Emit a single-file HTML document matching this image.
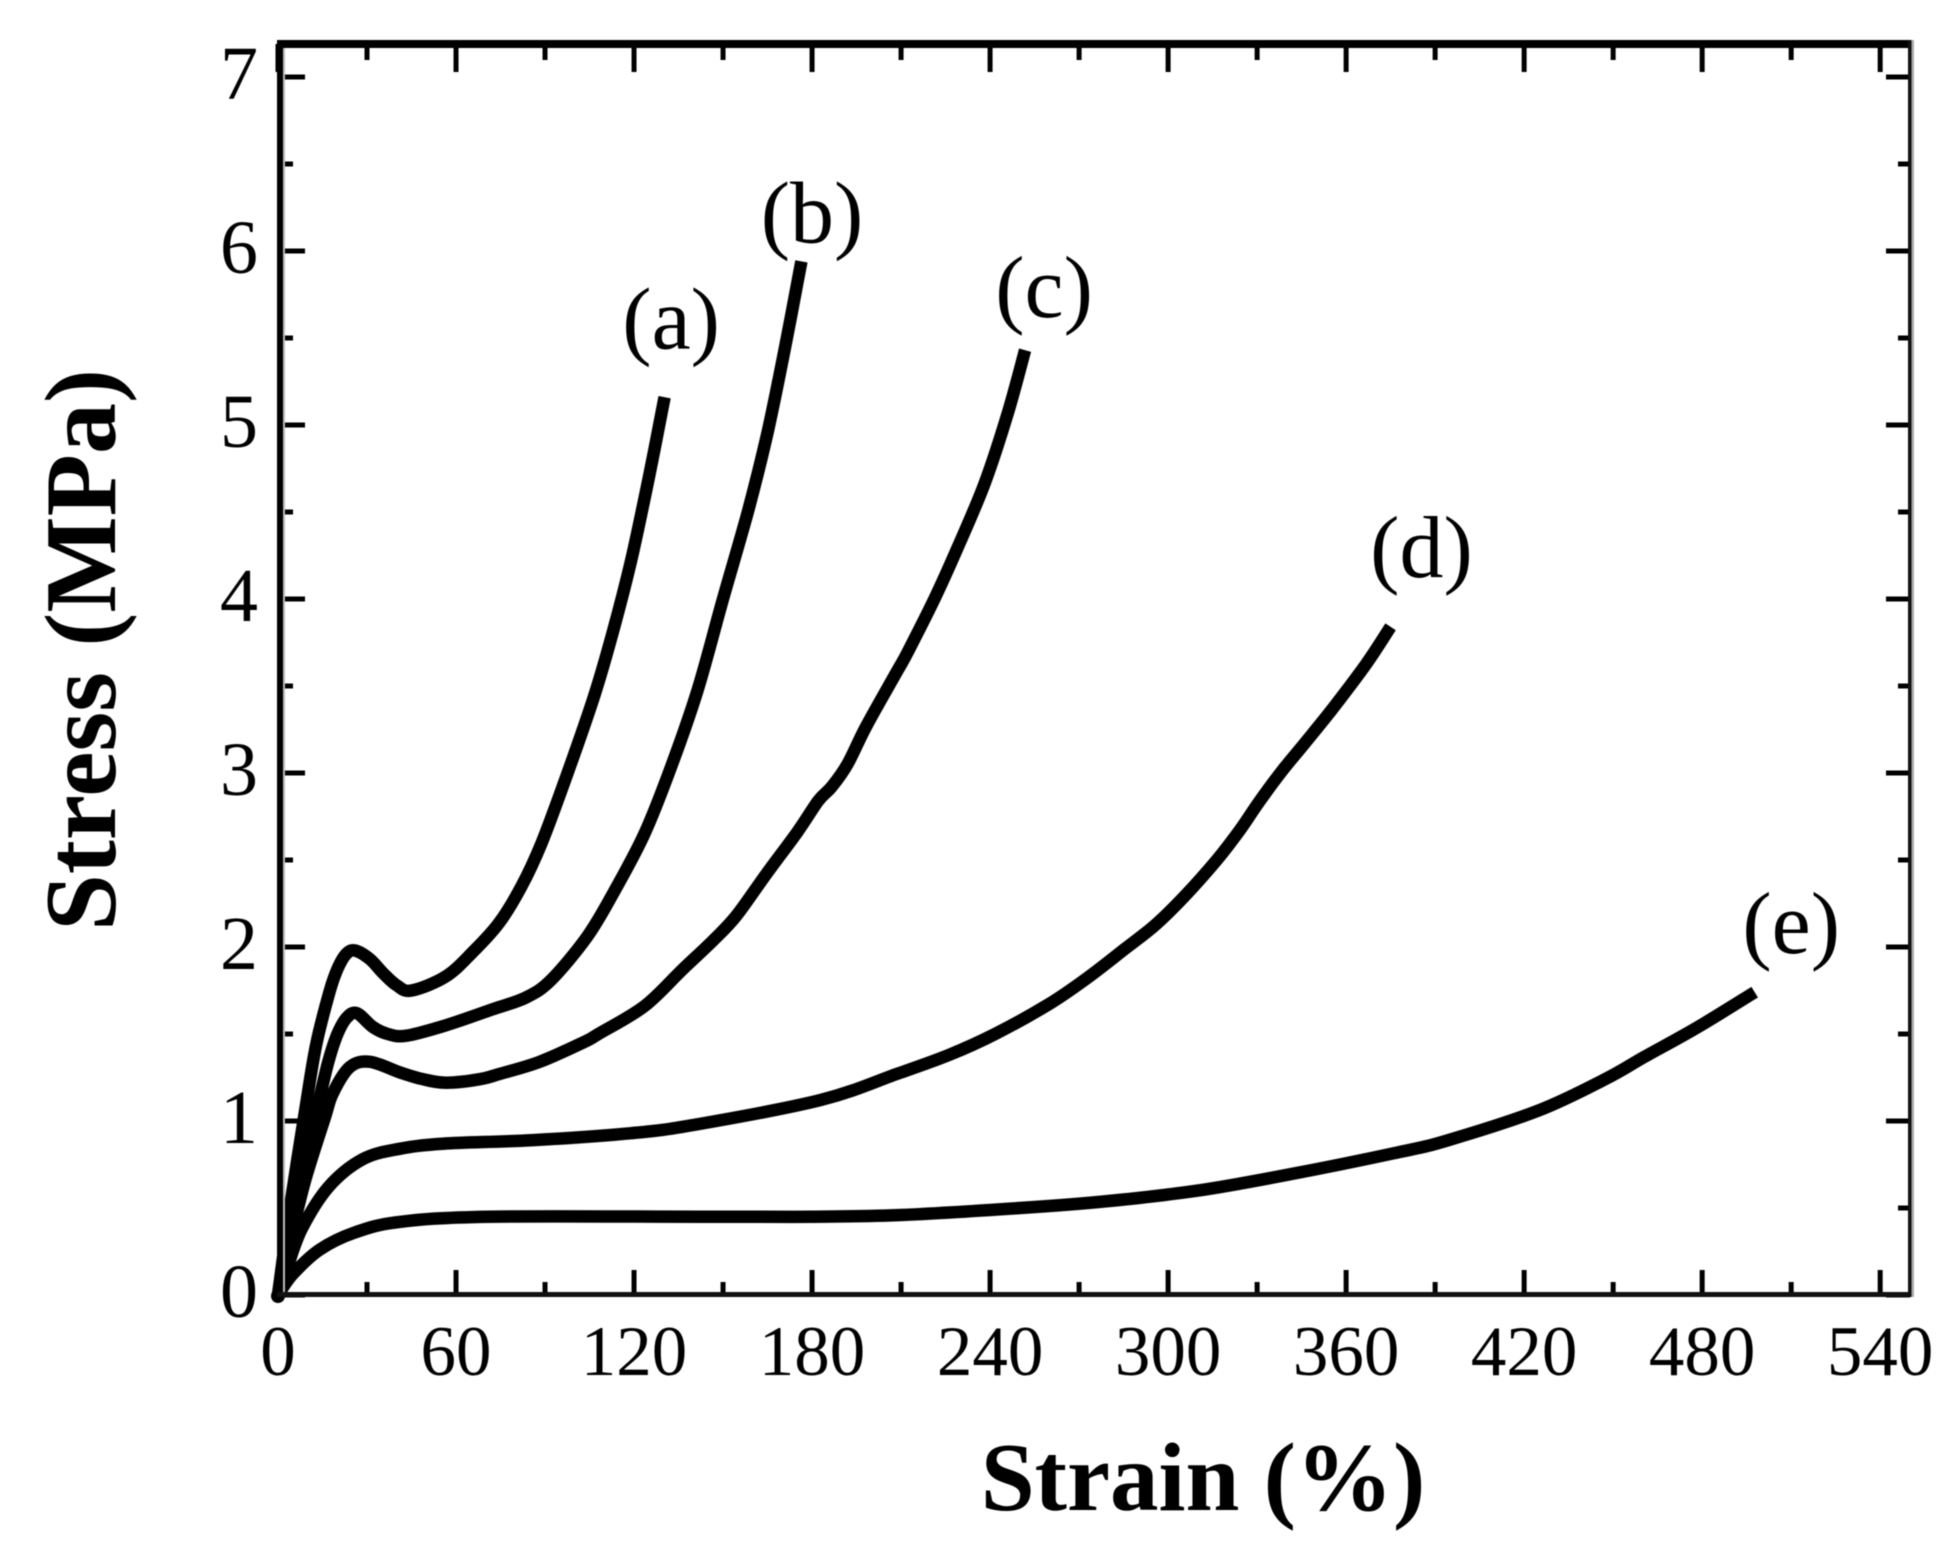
<!DOCTYPE html>
<html>
<head>
<meta charset="utf-8">
<title>Stress-strain curves</title>
<style>
html,body{margin:0;padding:0;background:#fff;}
svg{display:block;filter:blur(0.5px);}
text{font-family:"Liberation Serif",serif;fill:#000;}
</style>
</head>
<body>
<svg id="chart" xmlns="http://www.w3.org/2000/svg" width="1959" height="1550" viewBox="0 0 1959 1550">
  <rect x="0" y="0" width="1959" height="1550" fill="#fff"/>
  <g id="ticks"></g>
  <g id="curves"></g>
  <rect x="277" y="40" width="1637" height="8" fill="#000"/>
  <rect x="277" y="40" width="6" height="1258" fill="#000"/>
  <rect x="283" y="48" width="2" height="1245" fill="#bbb"/>
  <rect x="277" y="1292" width="1636" height="5" fill="#111"/>
  <rect x="1908" y="40" width="3.5" height="1257" fill="#111"/>
  <rect x="1911.5" y="40" width="2.5" height="1257" fill="#aaa"/>
  <g id="labels"></g>
  <g id="series-labels"></g>
  <text x="1203" y="1510" text-anchor="middle" font-size="97" font-weight="bold">Strain (%)</text>
  <text transform="translate(115,650) rotate(-90)" text-anchor="middle" font-size="102" font-weight="bold">Stress (MPa)</text>
</svg>
<script>
var xMajorTicks = [0,60,120,180,240,300,360,420,480,540];
var xMinorTicks = [30,90,150,210,270,330,390,450,510];
var yMajorTicks = [0,1,2,3,4,5,6,7];
var yMinorTicks = [0.5,1.5,2.5,3.5,4.5,5.5,6.5];

var strainA = [0,4,9.7,13,17.5,20.2,23,26,31,35.4,40,45,56.5,65.6,74.6,82.1,88.9,97.6,106.7,113,119,125,130.3];
var stressA = [0,0.5,1.12,1.45,1.75,1.88,1.96,1.98,1.93,1.85,1.78,1.75,1.83,1.97,2.14,2.35,2.6,3.0,3.45,3.82,4.22,4.7,5.16];
var strainB = [0,4,9,13,16.8,19.8,23,26.5,32,37,43.3,56.6,72,83.6,92,104.2,113,123.5,132.6,141.5,149.8,158.5,164.9,170.7,176.4];
var stressB = [0,0.4,0.8,1.06,1.33,1.49,1.59,1.62,1.54,1.5,1.49,1.55,1.64,1.71,1.81,2.06,2.31,2.65,3.04,3.48,3.99,4.51,4.95,5.43,5.94];
var strainC = [0,4,9,15.8,18.5,24.2,31,41,48.9,56.8,68,74.6,88.2,102.7,108,123.5,136.3,146.8,154.5,164.6,175,182.1,186.6,191.9,198.3,208.5,212.4,221.5,229.2,238.3,246,251.8];
var stressC = [0,0.3,0.65,1.02,1.16,1.31,1.34,1.28,1.24,1.22,1.24,1.27,1.34,1.45,1.5,1.66,1.87,2.04,2.18,2.42,2.66,2.84,2.92,3.05,3.27,3.58,3.7,4.01,4.3,4.67,5.07,5.43];
var strainD = [0,3,8,17,28.5,41,56,86,119,141,182.8,208.5,226.2,241.7,259.7,272.6,285.5,295.9,306,316.4,324.1,330.5,338.3,346,355,366.5,375];
var stressD = [0,0.15,0.38,0.62,0.78,0.84,0.87,0.89,0.93,0.98,1.12,1.27,1.38,1.5,1.67,1.82,1.99,2.13,2.3,2.5,2.67,2.83,3.01,3.17,3.36,3.62,3.84];
var strainE = [0,5,14,26,41,71,141,180,210,250,280,310,340,377.6,394.5,424.8,447.3,460.7,478.6,497.7];
var stressE = [0,0.12,0.26,0.36,0.42,0.45,0.45,0.45,0.46,0.5,0.54,0.6,0.69,0.82,0.89,1.06,1.24,1.37,1.54,1.74];

var seriesNames = ['a','b','c','d','e'];
var seriesStrain = [strainA,strainB,strainC,strainD,strainE];
var seriesStress = [stressA,stressB,stressC,stressD,stressE];

var seriesLabelText = ['(a)','(b)','(c)','(d)','(e)'];
var seriesLabelStrain = [132.5,180,258.2,385.4,510];
var seriesLabelStress = [5.44,6.05,5.62,4.126,1.966];

var NS = 'http://www.w3.org/2000/svg';
function xScale(v){ return 278 + v * 2.967; }
function yScale(v){ return 1295 - v * 174; }

function make(tag, attrs, parent){
  var el = document.createElementNS(NS, tag);
  for (var k in attrs) el.setAttribute(k, attrs[k]);
  parent.appendChild(el);
  return el;
}
function smoothPath(xs, ys){
  var pts = xs.map(function(x,i){ return [xScale(x), yScale(ys[i])]; });
  var d = 'M' + pts[0][0].toFixed(1) + ' ' + pts[0][1].toFixed(1);
  for (var i = 0; i < pts.length - 1; i++){
    var p0 = pts[Math.max(0,i-1)], p1 = pts[i], p2 = pts[i+1], p3 = pts[Math.min(pts.length-1,i+2)];
    var c1x = p1[0] + (p2[0]-p0[0])/6, c1y = p1[1] + (p2[1]-p0[1])/6;
    var c2x = p2[0] - (p3[0]-p1[0])/6, c2y = p2[1] - (p3[1]-p1[1])/6;
    d += ' C' + c1x.toFixed(1) + ' ' + c1y.toFixed(1) + ' ' + c2x.toFixed(1) + ' ' + c2y.toFixed(1) + ' ' + p2[0].toFixed(1) + ' ' + p2[1].toFixed(1);
  }
  return d;
}

var ticksG = document.getElementById('ticks');
var labelsG = document.getElementById('labels');
var curvesG = document.getElementById('curves');
var seriesLabelsG = document.getElementById('series-labels');

function xTick(v, len, name){
  var x = xScale(v);
  var bottom = make('line', {x1:x, x2:x, y1:1295, y2:1295-len, stroke:'#000', 'stroke-width':5}, ticksG);
  
  
  var top = make('line', {x1:x, x2:x, y1:44, y2:47+len, stroke:'#000', 'stroke-width':5}, ticksG);
  
  
}
function yTick(v, len, name){
  var y = yScale(v);
  var left = make('line', {x1:279, x2:283+len, y1:y, y2:y, stroke:'#000', 'stroke-width':5}, ticksG);
  
  
  var right = make('line', {x1:1910, x2:1908-len, y1:y, y2:y, stroke:'#000', 'stroke-width':5}, ticksG);
  
  
}
xMajorTicks.forEach(function(v){
  xTick(v, 25, 'x-major-tick');
  var t = make('text', {x:xScale(v), y:1375, 'text-anchor':'middle', 'font-size':71}, labelsG);
  
  
  t.textContent = v;
});
xMinorTicks.forEach(function(v){ xTick(v, 13, 'x-minor-tick'); });
yMajorTicks.forEach(function(v){
  yTick(v, 22, 'y-major-tick');
  var t = make('text', {x:258, y:yScale(v)+22, 'text-anchor':'end', 'font-size':76}, labelsG);
  
  
  t.textContent = v;
});
yMinorTicks.forEach(function(v){ yTick(v, 10, 'y-minor-tick'); });

seriesNames.forEach(function(n,i){
  var p = make('path', {d:smoothPath(seriesStrain[i], seriesStress[i]), fill:'none', stroke:'#000', 'stroke-width':12.5, 'stroke-linejoin':'round', 'stroke-linecap':'butt'}, curvesG);
  
  
});
var originDot = make('circle', {cx:xScale(0), cy:yScale(0)+1, r:7, fill:'#000'}, curvesG);



seriesLabelText.forEach(function(s,i){
  var t = make('text', {x:xScale(seriesLabelStrain[i]), y:yScale(seriesLabelStress[i]), 'text-anchor':'middle', 'font-size':88}, seriesLabelsG);
  
  
  t.textContent = s;
});
</script>
</body>
</html>
